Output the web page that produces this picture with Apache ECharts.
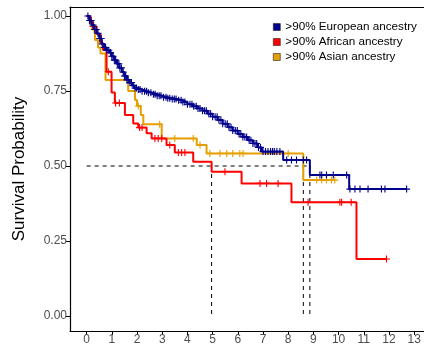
<!DOCTYPE html>
<html>
<head>
<meta charset="utf-8">
<script src="https://cdn.jsdelivr.net/npm/echarts@6/dist/echarts.min.js"></script>
<style>html,body{margin:0;padding:0;background:#fff}#c{width:424px;height:349px}</style>
</head>
<body>
<div id="c"></div>
<script>
// ---- data ----
const seriesNames = ['>90% European ancestry', '>90% African ancestry', '>90% Asian ancestry'];
const xTicks = [0,1,2,3,4,5,6,7,8,9,10,11,12,13];
const yTicks = [0, 0.25, 0.5, 0.75, 1.0];

// [time, survival from this time on]
const european = [
  [0,1],[0.1,0.985],[0.2,0.97],[0.3,0.955],[0.4,0.942],[0.5,0.925],[0.6,0.907],[0.7,0.895],
  [0.8,0.886],[0.9,0.878],[1.0,0.866],[1.1,0.853],[1.2,0.841],[1.3,0.827],[1.4,0.813],[1.5,0.8],
  [1.6,0.787],[1.7,0.778],[1.8,0.768],[1.9,0.76],[2.0,0.755],[2.2,0.749],[2.4,0.744],[2.6,0.739],
  [2.8,0.734],[3.0,0.729],[3.2,0.726],[3.4,0.723],[3.6,0.719],[3.8,0.713],[4.0,0.706],[4.2,0.699],
  [4.4,0.692],[4.6,0.684],[4.8,0.674],[5.0,0.664],[5.2,0.653],[5.4,0.641],[5.6,0.629],[5.8,0.618],
  [6.0,0.607],[6.2,0.597],[6.4,0.586],[6.6,0.575],[6.8,0.562],[6.95,0.548],[7.8,0.52],[8.86,0.47],
  [10.42,0.423],[12.7,0.423]
];
const african = [
  [0,1],[0.15,0.98],[0.26,0.965],[0.4,0.94],[0.55,0.91],[0.65,0.887],[0.79,0.814],[0.99,0.745],
  [1.12,0.71],[1.52,0.67],[1.85,0.642],[2.05,0.628],[2.38,0.609],[2.58,0.592],[3.17,0.57],
  [3.5,0.545],[4.23,0.514],[4.96,0.481],[6.15,0.442],[8.13,0.379],[10.71,0.19],[11.9,0.19]
];
const asian = [
  [0,1],[0.12,0.975],[0.22,0.955],[0.33,0.92],[0.45,0.895],[0.55,0.875],[0.75,0.787],[1.65,0.75],
  [1.92,0.72],[2.0,0.70],[2.15,0.67],[2.25,0.639],[2.98,0.592],[4.37,0.57],[4.76,0.542],
  [8.6,0.453],[9.85,0.453]
];

// censoring times
const europeanCensor = [0.05,0.12,0.18,0.25,0.32,0.38,0.45,0.52,0.58,0.62,0.7,0.75,0.8,0.88,0.95,1.0,
  1.05,1.1,1.15,1.22,1.28,1.32,1.38,1.45,1.5,1.55,1.6,1.65,1.72,1.78,1.85,1.92,1.98,2.05,2.12,2.2,2.3,
  2.38,2.45,2.55,2.65,2.72,2.8,2.88,2.95,3.05,3.15,3.22,3.3,3.4,3.48,3.55,3.65,3.75,3.82,3.9,
  4.0,4.1,4.18,4.25,4.35,4.42,4.5,4.6,4.68,4.75,4.85,4.92,5.0,5.1,5.18,5.25,5.33,5.4,5.5,5.58,5.65,
  5.73,5.8,5.9,5.98,6.05,6.12,6.2,6.28,6.35,6.45,6.52,6.6,6.68,6.75,6.82,6.9,7.0,7.1,7.2,7.3,7.38,
  7.45,7.55,7.67,7.94,8.13,8.33,8.6,8.73,9.26,9.33,9.52,9.79,10.32,10.45,10.65,10.85,11.17,11.7,
  11.84,12.7];
const africanCensor = [0.26,0.86,1.15,1.3,2.1,2.2,2.71,2.84,2.98,3.3,3.64,3.77,3.9,5.49,6.88,7.14,7.6,
  8.79,10.05,10.12,10.5,11.9];
const asianCensor = [0.3,2.05,2.9,3.5,4.23,4.5,4.89,5.29,5.56,5.8,6.08,6.21,8.0,9.13,9.33,9.52,9.72,9.85];

const medians = [4.96, 8.6, 8.86];
const medianLevel = 0.5;

// ---- styles ----
const colors = ['#00008B', '#FF0000', '#E69F00'];
const plusPath = 'path://M4.2,0H5.8V10H4.2Z M0,4.2H10V5.8H0Z';

function survAt(curve, t) {
  let s = curve[0][1];
  for (const p of curve) if (p[0] <= t) s = p[1];
  return s;
}

const curves = [european, african, asian];
const censors = [europeanCensor, africanCensor, asianCensor];
const drawOrder = [2, 1, 0];

const series = [];
// median guides
const hEnd = Math.max(...medians);
const dashStyle = {color: '#000', width: 1, type: [4, 4]};
series.push({type: 'line', name: 'medH', data: [[0, medianLevel], [hEnd, medianLevel]],
  symbol: 'none', lineStyle: dashStyle, silent: true, z: 1, animation: false});
medians.forEach((m, i) => {
  series.push({type: 'line', name: 'medV' + i, data: [[m, medianLevel], [m, 0]],
    symbol: 'none', lineStyle: dashStyle, silent: true, z: 1, animation: false});
});
drawOrder.forEach((i, k) => {
  series.push({
    type: 'line', name: seriesNames[i], data: curves[i], step: 'end', symbol: 'none',
    lineStyle: {color: colors[i], width: 2}, itemStyle: {color: colors[i]},
    z: 2 + k * 2, animation: false
  });
  series.push({
    type: 'scatter', name: 'c' + i,
    data: censors[i].map(t => [t, survAt(curves[i], t)]),
    symbol: plusPath, symbolSize: [7, 7],
    itemStyle: {color: colors[i], opacity: 1}, z: 3 + k * 2, animation: false
  });
});

const chart = echarts.init(document.getElementById('c'), null, {renderer: 'canvas'});
const fontFamily = '"Liberation Sans", Arial, sans-serif';
chart.setOption({
  animation: false,
  backgroundColor: '#fff',
  grid: {left: 70, right: 0, top: 7, bottom: 18, containLabel: false},
  legend: {
    orient: 'vertical', left: 268, top: 16, itemWidth: 7, itemHeight: 7, itemGap: 3,
    data: seriesNames.map(n => ({name: n, icon: 'rect', itemStyle: {borderColor: '#222', borderWidth: 0.6}})),
    textStyle: {fontFamily, fontSize: 11.7, color: '#000'},
    selectedMode: false
  },
  xAxis: [{
    type: 'value', min: -0.66, max: 13.39,
    axisLine: {show: true, onZero: false, lineStyle: {color: '#000', width: 1.2}},
    axisTick: {show: true, length: 4, customValues: xTicks, lineStyle: {color: '#000'}},
    axisLabel: {customValues: xTicks, margin: 3, fontFamily, fontSize: 12, color: '#4d4d4d'},
    splitLine: {show: false}
  }, {
    type: 'value', position: 'top', min: -0.66, max: 13.39,
    axisLine: {show: true, onZero: false, lineStyle: {color: '#000', width: 1.2}},
    axisTick: {show: false}, axisLabel: {show: false}, splitLine: {show: false}
  }],
  yAxis: {
    type: 'value', min: -0.05, max: 1.03,
    name: 'Survival Probability', nameLocation: 'middle', nameGap: 42,
    nameTextStyle: {fontFamily, fontSize: 17, color: '#000'},
    axisLine: {show: true, onZero: false, lineStyle: {color: '#000', width: 1.2}},
    axisTick: {show: true, length: 4, customValues: yTicks, lineStyle: {color: '#000'}},
    axisLabel: {customValues: yTicks, margin: 3, fontFamily, fontSize: 12, color: '#4d4d4d',
      formatter: v => v.toFixed(2)},
    splitLine: {show: false}
  },
  series
});
</script>
</body>
</html>
